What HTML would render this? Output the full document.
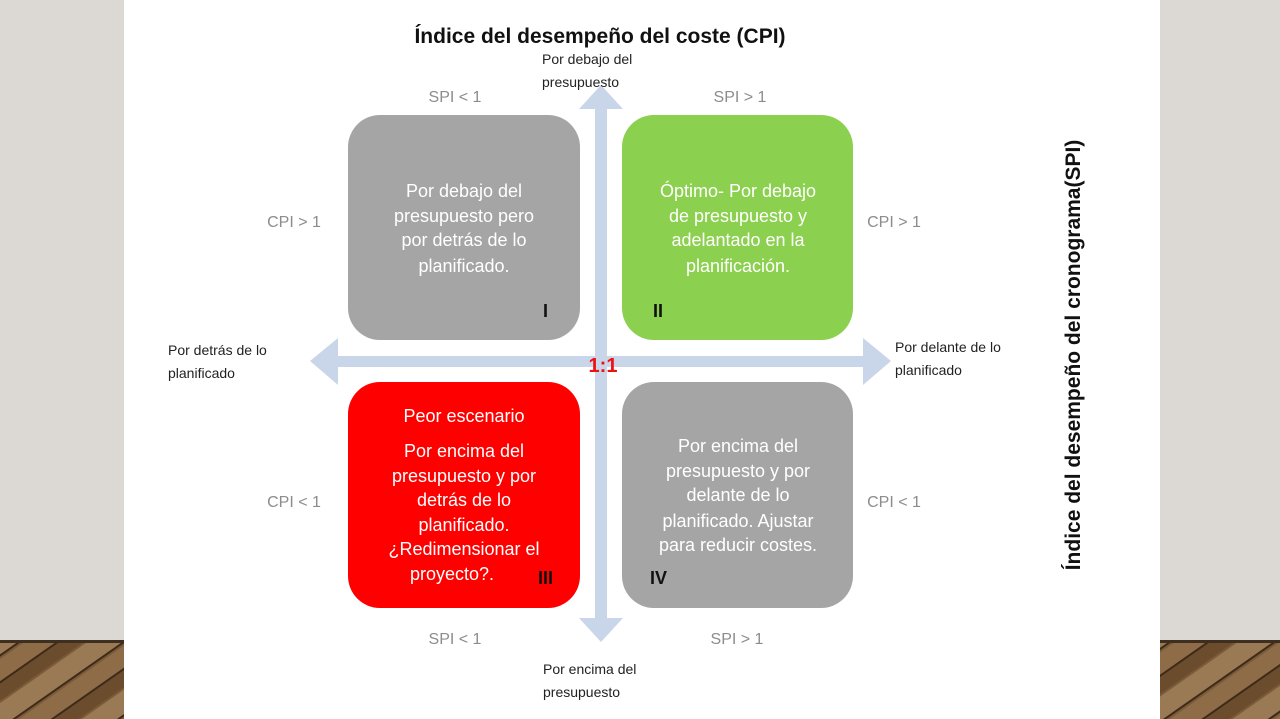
<!DOCTYPE html>
<html><head><meta charset="utf-8"><style>
html,body{margin:0;padding:0;width:1280px;height:719px;overflow:hidden;background:#fff}
svg{display:block}
text{font-family:"Liberation Sans",sans-serif}
</style></head><body>
<svg width="1280" height="719" viewBox="0 0 1280 719">
<defs>
<pattern id="wood" width="60" height="60" patternUnits="userSpaceOnUse" patternTransform="rotate(-35)">
<rect width="60" height="60" fill="#7a5a38"/>
<rect width="60" height="18" fill="#8d6c47"/>
<rect y="20" width="60" height="14" fill="#6b4d2e"/>
<rect y="36" width="60" height="20" fill="#9a7a55"/>
<rect y="18" width="60" height="2" fill="#3e2a18"/>
<rect y="56" width="60" height="2" fill="#3e2a18"/>
</pattern>
</defs>
<rect x="0" y="0" width="124" height="642" fill="#dcd8d3"/>
<rect x="0" y="642" width="124" height="77" fill="url(#wood)"/>
<rect x="0" y="640" width="124" height="3" fill="#3e2e20"/>
<rect x="1160" y="0" width="120" height="642" fill="#dcd8d3"/>
<rect x="1160" y="642" width="120" height="77" fill="url(#wood)"/>
<rect x="1160" y="640" width="120" height="3" fill="#3e2e20"/>
<rect x="124" y="0" width="1036" height="719" fill="#fff"/>

<text x="600" y="43" text-anchor="middle" font-size="21" font-weight="bold" fill="#111">Índice del desempeño del coste (CPI)</text>
<text transform="translate(1080,355) rotate(-90)" text-anchor="middle" font-size="21" font-weight="bold" fill="#111">Índice del desempeño del cronograma(SPI)</text>

<g fill="#c9d6ea">
<rect x="595" y="105" width="12" height="520"/>
<polygon points="601,85 623,109 579,109"/>
<polygon points="601,642 623,618 579,618"/>
<rect x="335" y="356" width="532" height="11"/>
<polygon points="310,361 338,338 338,385"/>
<polygon points="891,361 863,338 863,385"/>
</g>

<rect x="348" y="115" width="232" height="225" rx="32" fill="#a5a5a5"/>
<rect x="622" y="115" width="231" height="225" rx="32" fill="#8cd04f"/>
<rect x="348" y="382" width="232" height="226" rx="32" fill="#fe0000"/>
<rect x="622" y="382" width="231" height="226" rx="32" fill="#a5a5a5"/>

<g font-size="18" fill="#fff" text-anchor="middle">
<text x="464" y="197">Por debajo del</text>
<text x="464" y="222">presupuesto pero</text>
<text x="464" y="246">por detrás de lo</text>
<text x="464" y="272">planificado.</text>
<text x="738" y="197">Óptimo- Por debajo</text>
<text x="738" y="222">de presupuesto y</text>
<text x="738" y="246">adelantado en la</text>
<text x="738" y="272">planificación.</text>
<text x="464" y="422">Peor escenario</text>
<text x="464" y="457">Por encima del</text>
<text x="464" y="482">presupuesto y por</text>
<text x="464" y="506">detrás de lo</text>
<text x="464" y="531">planificado.</text>
<text x="464" y="555">¿Redimensionar el</text>
<text x="452" y="580">proyecto?.</text>
<text x="738" y="452">Por encima del</text>
<text x="738" y="477">presupuesto y por</text>
<text x="738" y="501">delante de lo</text>
<text x="738" y="527">planificado.  Ajustar</text>
<text x="738" y="551">para reducir costes.</text>
</g>
<g font-size="18" font-weight="bold" fill="#111">
<text x="543" y="317">I</text>
<text x="653" y="317">II</text>
<text x="538" y="584">III</text>
<text x="650" y="584">IV</text>
</g>
<text x="603" y="372" text-anchor="middle" font-size="20" font-weight="bold" fill="#ee1111">1:1</text>

<g font-size="16" fill="#8c8c8c" text-anchor="middle">
<text x="455" y="102">SPI &lt; 1</text>
<text x="740" y="102">SPI &gt; 1</text>
<text x="455" y="644">SPI &lt; 1</text>
<text x="737" y="644">SPI &gt; 1</text>
<text x="294" y="227">CPI &gt; 1</text>
<text x="894" y="227">CPI &gt; 1</text>
<text x="294" y="507">CPI &lt; 1</text>
<text x="894" y="507">CPI &lt; 1</text>
</g>
<g font-size="14" fill="#222">
<text x="542" y="64">Por debajo del</text>
<text x="542" y="87">presupuesto</text>
<text x="543" y="674">Por encima del</text>
<text x="543" y="697">presupuesto</text>
<text x="168" y="355">Por detrás de lo</text>
<text x="168" y="378">planificado</text>
<text x="895" y="352">Por delante de lo</text>
<text x="895" y="375">planificado</text>
</g>
</svg>
</body></html>
